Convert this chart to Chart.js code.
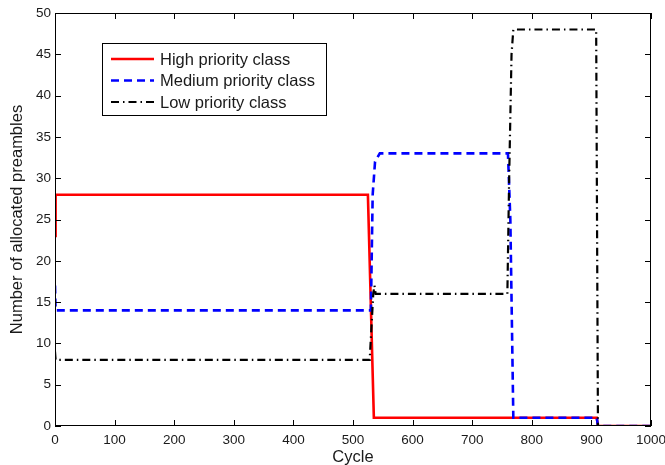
<!DOCTYPE html>
<html>
<head>
<meta charset="utf-8">
<script src="https://cdn.jsdelivr.net/npm/chart.js@4"></script>
<style>
  html,body{margin:0;padding:0;background:#fff}
  #wrap{width:665px;height:465px;position:relative}
</style>
</head>
<body>
<div id="wrap"><canvas id="c" width="665" height="465"></canvas></div>
<script>
// values
const seriesNames=['High priority class','Medium priority class','Low priority class'];
const highX=[0,1,525,535,909,911,1000];
const highY=[23,28,28,1,1,0,0];
const medX=[0,1,530,533,537,545,760,764,769,909,911,1000];
const medY=[17,14,14,28,32,33,33,25,1,1,0,0];
const lowX=[0,1,528,534,536,538,759,762,766,769,908,911,1000];
const lowY=[9,8,8,16,17,16,16,30,45,48,48,0,0];
const xTicks=[0,100,200,300,400,500,600,700,800,900,1000];
const yTicks=[0,5,10,15,20,25,30,35,40,45,50];

const pts=(xs,ys)=>xs.map((x,i)=>({x,y:ys[i]}));
const FONT='"Liberation Sans", Arial, sans-serif';

// box + inward ticks on all four sides, MATLAB style
const boxTicks={
  id:'boxTicks',
  afterDatasetsDraw(chart){
    const {ctx,chartArea:a,scales:{x,y}}=chart;
    ctx.save();
    ctx.strokeStyle='#000';ctx.lineWidth=1;
    ctx.strokeRect(a.left+0.5,a.top+0.5,a.right-a.left-1,a.bottom-a.top-1);
    ctx.beginPath();
    xTicks.forEach(v=>{const px=Math.round(x.getPixelForValue(v))+0.5;
      ctx.moveTo(px,a.bottom);ctx.lineTo(px,a.bottom-6);
      ctx.moveTo(px,a.top);ctx.lineTo(px,a.top+6);});
    yTicks.forEach(v=>{const py=Math.round(y.getPixelForValue(v))+0.5;
      ctx.moveTo(a.left,py);ctx.lineTo(a.left+6,py);
      ctx.moveTo(a.right,py);ctx.lineTo(a.right-6,py);});
    ctx.stroke();
    ctx.restore();
  }
};

// legend box inside the plot, top-left
const boxLegend={
  id:'boxLegend',
  afterDraw(chart){
    const ctx=chart.ctx;
    const bx=102.5,by=43.5,bw=224,bh=72;
    ctx.save();
    ctx.fillStyle='#fff';ctx.fillRect(bx,by,bw,bh);
    ctx.strokeStyle='#000';ctx.lineWidth=1;ctx.strokeRect(bx,by,bw,bh);
    ctx.font='16.5px '+FONT;ctx.textBaseline='middle';
    seriesNames.forEach((name,i)=>{
      const ds=chart.data.datasets[i];
      const ry=59+i*21.5;
      ctx.beginPath();
      ctx.strokeStyle=ds.borderColor;ctx.lineWidth=ds.borderWidth;
      ctx.setLineDash(ds.borderDash||[]);
      ctx.moveTo(111,ry);ctx.lineTo(154,ry);ctx.stroke();
      ctx.setLineDash([]);
      ctx.fillStyle='#1a1a1a';ctx.fillText(name,160,ry+1);
    });
    ctx.restore();
  }
};

new Chart(document.getElementById('c'),{
  type:'line',
  data:{datasets:[
    {label:seriesNames[0],data:pts(highX,highY),borderColor:'#ff0000',borderWidth:2.6,order:3},
    {label:seriesNames[1],data:pts(medX,medY),borderColor:'#0000ff',borderWidth:2.6,borderDash:[8,5],order:2},
    {label:seriesNames[2],data:pts(lowX,lowY),borderColor:'#000000',borderWidth:2.2,borderDash:[8,4,1.5,4],order:1}
  ]},
  options:{
    responsive:false,animation:false,
    elements:{point:{radius:0},line:{tension:0,borderJoinStyle:'miter'}},
    layout:{padding:{left:0,top:13,right:14,bottom:0}},
    plugins:{legend:{display:false},tooltip:{enabled:false}},
    scales:{
      x:{type:'linear',min:0,max:1000,
        afterBuildTicks:s=>{s.ticks=xTicks.map(v=>({value:v}));},
        afterFit:s=>{s.height=39;s.paddingLeft=0;s.paddingRight=0;},
        grid:{display:false,drawTicks:false},border:{display:false},
        ticks:{padding:6,color:'#1a1a1a',font:{family:FONT,size:13.5},maxRotation:0,autoSkip:false,callback:v=>String(v)},
        title:{display:true,text:'Cycle',color:'#1a1a1a',font:{family:FONT,size:16.5},padding:{top:0,bottom:-2}}},
      y:{min:0,max:50,
        afterBuildTicks:s=>{s.ticks=yTicks.map(v=>({value:v}));},
        afterFit:s=>{s.width=55;s.paddingTop=0;s.paddingBottom=0;},
        grid:{display:false,drawTicks:false},border:{display:false},
        ticks:{padding:4,color:'#1a1a1a',font:{family:FONT,size:13.5},autoSkip:false,callback:v=>String(v)},
        title:{display:true,text:'Number of allocated preambles',color:'#1a1a1a',font:{family:FONT,size:16.5},padding:{top:7.5,bottom:0}}}
    }
  },
  plugins:[boxTicks,boxLegend]
});
</script>
</body>
</html>
